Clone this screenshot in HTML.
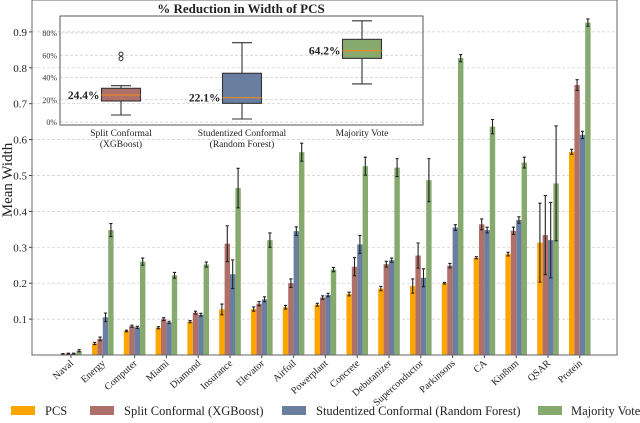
<!DOCTYPE html>
<html><head><meta charset="utf-8"><style>
body{margin:0;background:#fff;}
svg{display:block;font-family:"Liberation Serif","DejaVu Serif",serif;}
</style></head><body>
<svg id="chart" width="640" height="423" viewBox="0 0 640 423"></svg>
<script>
const categories=["Naval","Energy","Computer","Miami","Diamond","Insurance","Elevator","Airfoil","Powerplant","Concrete","Debutanizer","Superconductor","Parkinsons","CA","Kin8nm","QSAR","Protein"];
const pcsVals=[0.003,0.032,0.067,0.076,0.093,0.127,0.128,0.133,0.140,0.170,0.185,0.192,0.200,0.271,0.281,0.313,0.566];
const pcsErr=[0.001,0.003,0.002,0.003,0.003,0.015,0.006,0.005,0.004,0.005,0.006,0.02,0.002,0.003,0.005,0.11,0.007];
const splitVals=[0.004,0.045,0.080,0.100,0.118,0.310,0.143,0.200,0.160,0.246,0.253,0.277,0.249,0.364,0.346,0.334,0.752];
const splitErr=[0.001,0.005,0.003,0.004,0.004,0.05,0.006,0.012,0.005,0.025,0.008,0.035,0.006,0.015,0.01,0.11,0.015];
const studVals=[0.004,0.105,0.077,0.091,0.112,0.225,0.155,0.345,0.167,0.308,0.264,0.215,0.355,0.348,0.376,0.320,0.613];
const studErr=[0.001,0.012,0.003,0.003,0.004,0.04,0.007,0.012,0.005,0.025,0.006,0.025,0.008,0.008,0.009,0.105,0.01];
const mvVals=[0.012,0.348,0.260,0.222,0.252,0.465,0.320,0.565,0.238,0.526,0.522,0.487,0.827,0.636,0.536,0.478,0.926];
const mvErr=[0.003,0.018,0.01,0.008,0.007,0.055,0.02,0.025,0.006,0.025,0.025,0.06,0.01,0.02,0.015,0.16,0.01];
const yTicks=[0.1,0.2,0.3,0.4,0.5,0.6,0.7,0.8,0.9];
const seriesNames=["PCS","Split Conformal (XGBoost)","Studentized Conformal (Random Forest)","Majority Vote"];
const boxLabels=[["Split Conformal","(XGBoost)"],["Studentized Conformal","(Random Forest)"],["Majority Vote"]];
const boxMedians=[24.3,21.9,64.1];
const boxQ1=[18.9,16.8,57.2];
const boxQ3=[30.3,43.8,74.3];
const boxLo=[6.3,2.7,34.2];
const boxHi=[32.6,71.3,91.0];
const boxOutliers=[[57,61],[],[]];
const boxText=["24.4%","22.1%","64.2%"];
const insetTicks=[0,20,40,60,80];

const colors=["#ffa500","#b0706a","#6a7fa0","#86aa6e"];
const NS="http://www.w3.org/2000/svg";
const svg=document.getElementById('chart');
function mk(t,a,p){const e=document.createElementNS(NS,t);for(const k in a)e.setAttribute(k,a[k]);(p||svg).appendChild(e);return e;}
const L=32,R=617,T=0,B=355;
const y=v=>B-v*359;
const x=i=>71+i*31.8;
const bw=5.4;

for(const t of yTicks){
  const g=mk('line',{x1:L,x2:R,y1:y(t),y2:y(t),stroke:'#ccc','stroke-dasharray':'3,2','stroke-width':0.7});
  
  const tk=mk('line',{x1:L-3,x2:L,y1:y(t),y2:y(t),stroke:'#444'});
  
  const tx=mk('text',{x:L-5,y:y(t)+4,'text-anchor':'end','font-size':11,fill:'#222'});
  tx.textContent=t.toFixed(1);
  
}
const yl=mk('text',{x:0,y:0,transform:'translate(12,180) rotate(-90)','text-anchor':'middle','font-size':15,fill:'#222'});
yl.textContent='Mean Width';

const all=[[pcsVals,pcsErr],[splitVals,splitErr],[studVals,studErr],[mvVals,mvErr]];
categories.forEach((c,i)=>{
  all.forEach((s,k)=>{
    const v=s[0][i],e=s[1][i];
    const bx=x(i)+(k-2)*bw;
    const r=mk('rect',{x:bx,y:y(v),width:bw,height:B-y(v),fill:colors[k]});
    
    const cx=bx+bw/2;
    const eb=mk('path',{d:`M${cx},${y(v+e)}V${y(Math.max(0,v-e))}M${cx-1.6},${y(v+e)}h3.2M${cx-1.6},${y(Math.max(0,v-e))}h3.2`,stroke:'#222','stroke-width':1.1,fill:'none'});
    
  });
  const tk=mk('line',{x1:x(i),x2:x(i),y1:B,y2:B+3,stroke:'#444'});
  
  const lb=mk('text',{x:0,y:0,transform:`translate(${x(i)+3},${B+9}) rotate(-42)`,'text-anchor':'end','font-size':10,fill:'#222'});
  lb.textContent=c;
});
const fr=mk('rect',{x:L,y:T,width:R-L,height:B-T,fill:'none',stroke:'#666','stroke-width':1});


const ig=mk('g',{});
const IL=60,IR=423,IT=16,IB=125;
const iy=p=>122-p*1.1125;
const ttl=mk('text',{x:241,y:13,'text-anchor':'middle','font-size':13,'font-weight':'bold',fill:'#222'},ig);
ttl.textContent='% Reduction in Width of PCS';
for(const t of insetTicks){
  const g=mk('line',{x1:IL,x2:IR,y1:iy(t),y2:iy(t),stroke:'#ccc','stroke-dasharray':'3,2','stroke-width':0.7},ig);
  
  const tx=mk('text',{x:IL-3,y:iy(t)+3,'text-anchor':'end','font-size':8,fill:'#333'},ig);
  tx.textContent=t+'%';
}
const bcx=[121,242,362],bwid=39;
const bcol=["#b0706a","#6a7fa0","#86aa6e"];
boxMedians.forEach((m,i)=>{
  const cx=bcx[i];
  const w=mk('path',{d:`M${cx},${iy(boxLo[i])}V${iy(boxQ1[i])}M${cx},${iy(boxQ3[i])}V${iy(boxHi[i])}M${cx-10},${iy(boxLo[i])}h20M${cx-10},${iy(boxHi[i])}h20`,stroke:'#333','stroke-width':1.1,fill:'none'},ig);
  
  const b=mk('rect',{x:cx-bwid/2,y:iy(boxQ3[i]),width:bwid,height:iy(boxQ1[i])-iy(boxQ3[i]),fill:bcol[i],stroke:'#333','stroke-width':1.1},ig);
  
  const md=mk('line',{x1:cx-bwid/2,x2:cx+bwid/2,y1:iy(m),y2:iy(m),stroke:'#e08a2a','stroke-width':1.3},ig);
  
  boxOutliers[i].forEach(o=>{const c=mk('circle',{cx:cx,cy:iy(o),r:2,fill:'none',stroke:'#333'},ig);});
  const t=mk('text',{x:cx-bwid/2-2,y:iy(m)+4,'text-anchor':'end','font-size':11.5,'font-weight':'bold',fill:'#222'},ig);
  t.textContent=boxText[i];
  boxLabels[i].forEach((s,j)=>{const l=mk('text',{x:cx,y:136+j*11,'text-anchor':'middle','font-size':9.5,fill:'#222'},ig);l.textContent=s;});
});
const ifr=mk('rect',{x:IL,y:IT,width:IR-IL,height:IB-IT,fill:'none',stroke:'#555','stroke-width':1},ig);


const lx=[11,90,282,538],tx=[45,124,316,571];
seriesNames.forEach((n,k)=>{
  const r=mk('rect',{x:lx[k],y:406,width:24,height:9,fill:colors[k]});
  
  const t=mk('text',{x:tx[k],y:415,'font-size':12.5,fill:'#222'});
  t.textContent=n;
});
</script>
</body></html>
